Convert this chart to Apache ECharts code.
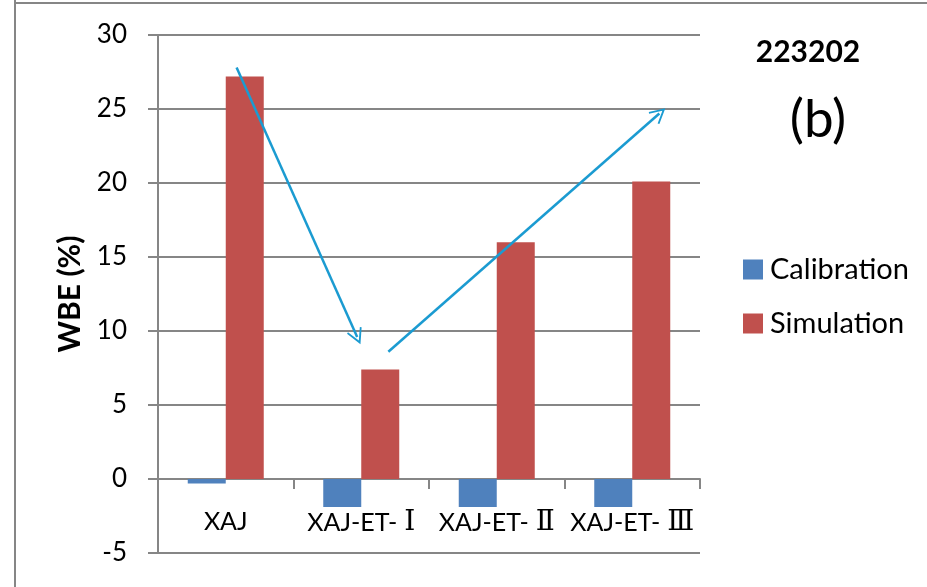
<!DOCTYPE html>
<html>
<head>
<meta charset="utf-8">
<script src="https://cdn.jsdelivr.net/npm/echarts@6/dist/echarts.min.js"></script>
<style>
html,body{margin:0;padding:0;background:#fff;}
#chart{width:927px;height:587px;}
</style>
</head>
<body>
<div id="chart"></div>
<script>
const categories = ['XAJ', 'XAJ-ET-Ⅰ', 'XAJ-ET-Ⅱ', 'XAJ-ET-Ⅲ'];
const calibration = [-0.3, -1.9, -1.9, -1.9];
const simulation = [27.2, 7.4, 16.0, 20.1];
const yTicks = { min: -5, max: 30, interval: 5 };
// annotation arrows in (category position, value) coordinates
const arrow1 = [[0.08, 27.8], [0.97, 9.6]];
const arrow2 = [[1.2, 8.6], [3.2, 24.7]];

const FONT = 'Lato, "Noto Sans", "Noto Sans CJK SC", sans-serif';
const chart = echarts.init(document.getElementById('chart'));
const chevron = 'path://M0,0 L8,15 L6.5,16 L0,4 L-6.5,16 L-8,15 Z';

function catLabel(v) {
  const m = v.match(/^(.*-)([ⅠⅡⅢ])$/);
  if (!m) return '{a|' + v + '}';
  return '{a|' + m[1] + '}{r|' + m[2] + '}';
}

chart.setOption({
  animation: false,
  backgroundColor: '#fff',
  textStyle: { fontFamily: FONT, color: '#000' },
  title: [
    { text: '223202', left: 803, top: 32, textAlign: 'center',
      textStyle: { fontFamily: FONT, fontSize: 30, fontWeight: 'bold', color: '#000' } },
    { text: '(b)', left: 813, top: 88, textAlign: 'center',
      textStyle: { fontFamily: FONT, fontSize: 53, fontWeight: 'normal', color: '#000' } }
  ],
  legend: {
    orient: 'vertical', left: 738, top: 250, itemWidth: 20, itemHeight: 20, itemGap: 25,
    icon: 'rect',
    textStyle: { fontFamily: FONT, fontSize: 29, color: '#000', padding: [0, 0, 0, 2] },
    data: ['Calibration', 'Simulation']
  },
  grid: { left: 158, top: 35, width: 542, height: 518, containLabel: false, outerBoundsMode: 'none' },
  xAxis: [
    {
      type: 'category', data: categories, boundaryGap: true,
      axisLine: { onZero: true, lineStyle: { color: '#868686', width: 2 } },
      axisTick: { show: true, length: 10, interval: 0, alignWithLabel: false, lineStyle: { color: '#868686', width: 2 } },
      axisLabel: { show: false },
      splitLine: { show: false }
    },
    { type: 'value', min: -0.5, max: 3.5, show: false },
    {
      type: 'category', data: categories, boundaryGap: true, position: 'bottom', offset: -44,
      axisLine: { show: false, onZero: false },
      axisTick: { show: false },
      axisLabel: {
        show: true, interval: 0, margin: 0, color: '#000',
        formatter: catLabel,
        rich: {
          a: { fontSize: 25, fontFamily: FONT, color: '#000' },
          r: { fontSize: 28, fontFamily: '"DejaVu Serif", "Liberation Serif", serif', color: '#000', padding: [0, 0, 0, 7] }
        }
      },
      splitLine: { show: false }
    }
  ],
  yAxis: {
    type: 'value', min: yTicks.min, max: yTicks.max, interval: yTicks.interval,
    name: 'WBE (%)', nameLocation: 'middle', nameGap: 73, nameRotate: 90,
    nameTextStyle: { fontFamily: FONT, fontSize: 30, fontWeight: 'bold', color: '#000' },
    axisLine: { show: true, onZero: false, lineStyle: { color: '#868686', width: 2 } },
    axisTick: { show: true, length: 10, inside: false, lineStyle: { color: '#868686', width: 2 } },
    axisLabel: { margin: 31, fontSize: 26, color: '#000', fontFamily: FONT },
    splitLine: { show: true, lineStyle: { color: '#868686', width: 2 } }
  },
  series: [
    { name: 'Calibration', type: 'bar', data: calibration, barWidth: 38, barGap: '0%',
      itemStyle: { color: '#4f81bd' } },
    { name: 'Simulation', type: 'bar', data: simulation, barWidth: 38, barGap: '0%',
      itemStyle: { color: '#c0504d' } },
    { name: 'arrows', type: 'scatter', xAxisIndex: 1, data: [], silent: true,
      markLine: {
        silent: true, animation: false,
        symbol: ['none', chevron], symbolSize: [16, 16],
        label: { show: false },
        lineStyle: { color: '#1b9bd1', width: 2.5, type: 'solid' },
        data: [
          [{ coord: arrow1[0] }, { coord: arrow1[1] }],
          [{ coord: arrow2[0] }, { coord: arrow2[1] }]
        ]
      } }
  ],
  graphic: [
    { type: 'line', shape: { x1: 15, y1: 0, x2: 15, y2: 587 }, style: { stroke: '#868686', lineWidth: 2 } },
    { type: 'line', shape: { x1: 15, y1: 3, x2: 927, y2: 3 }, style: { stroke: '#868686', lineWidth: 2 } }
  ]
});
</script>
</body>
</html>
